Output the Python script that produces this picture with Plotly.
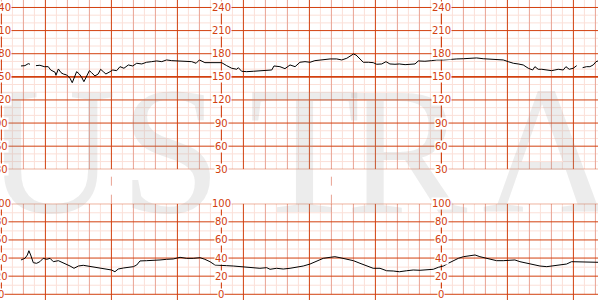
import plotly.graph_objects as go

# ---------------- data (minutes / bpm / UA units) ----------------
fhr_t = [0.89, 1.07, 1.22, 1.30, None, 1.57, 1.75, 1.95, 2.13, 2.24, 2.44, 2.48, 2.59, 2.71, 2.81, 2.97,
         3.12, 3.22, 3.30, 3.42, 3.54, 3.65, 3.75, 3.88, 4.00, 4.10, 4.25, 4.40, 4.51, 4.63, 4.75, 4.94,
         5.06, 5.24, 5.39, 5.57, 5.77, 5.97, 6.15, 6.38, 6.60, 6.83, 7.06, 7.29, 7.51, 7.74, 7.97, 8.20,
         8.42, 8.65, 8.85, 9.00, 9.25, 9.56, 9.79, 10.01, 10.24, 10.47, 10.70, 10.77, 10.92, 11.15, 11.45,
         11.75, 12.06, 12.29, 12.39, 12.66, 12.89, 13.12, 13.35, 13.57, 13.80, 14.03, 14.25, 14.48, 14.71,
         14.94, 15.24, 15.47, 15.70, 15.85, 16.00, 16.12, 16.27, 16.45, 16.68, 16.90, 17.06, 17.29, 17.48,
         17.66, 17.89, 18.09, 18.35, 18.57, 18.80, 18.95, 19.25, 19.56, 19.79, 20.09, 20.39, 20.70, 21.00,
         21.30, 21.60, 21.90, 22.21, 22.51, 22.81, 23.04, 23.27, 23.49, 23.72, 23.95, 24.15, 24.25, 24.40,
         24.56, 24.79, 25.01, 25.16, 25.31, 25.54, 25.66, 25.81, 25.99, 26.15, None, 26.42, 26.60, 26.75,
         26.90, 27.03, 27.12]
fhr_bpm = [164.1, 164.5, 167.1, 166.3, None, 164.5, 165.0, 163.2, 163.2, 158.9, 155.9, 152.0, 160.2, 155.4,
           153.7, 152.4, 148.1, 142.4, 148.1, 156.7, 153.7, 149.4, 143.7, 152.4, 158.0, 155.4, 151.1, 153.7,
           159.8, 156.7, 153.7, 156.7, 158.9, 158.0, 163.2, 161.1, 165.4, 164.1, 167.6, 166.7, 168.9, 169.7,
           170.6, 169.7, 171.9, 171.0, 170.6, 171.0, 170.6, 169.7, 167.6, 171.9, 168.4, 168.4, 169.3, 168.4,
           164.5, 161.1, 159.8, 161.9, 157.2, 156.7, 157.2, 158.0, 158.0, 158.9, 164.1, 163.2, 160.6, 165.4,
           163.2, 168.9, 169.7, 168.9, 171.0, 171.9, 172.8, 173.2, 173.2, 171.9, 174.1, 177.1, 179.6, 178.3,
           174.1, 168.9, 168.9, 168.4, 166.3, 166.7, 169.7, 166.7, 166.3, 166.7, 165.8, 166.7, 166.7, 170.6,
           170.2, 171.0, 171.9, 171.9, 172.8, 173.2, 173.5, 174.1, 174.5, 173.5, 173.2, 172.8, 171.9, 169.7,
           167.6, 166.7, 165.4, 161.1, 158.9, 163.2, 159.8, 159.8, 158.9, 158.0, 158.9, 159.8, 158.9, 163.2,
           159.8, 161.1, 164.5, None, 161.9, 163.2, 163.2, 165.4, 169.7, 170.6]

ua_t = [0.89, 1.07, 1.18, 1.25, 1.33, 1.45, 1.60, 1.75, 1.90, 2.06, 2.21, 2.36, 2.59, 2.81, 3.12, 3.30,
        3.50, 3.72, 3.95, 4.18, 4.48, 4.79, 5.01, 5.16, 5.31, 5.54, 5.77, 6.00, 6.15, 6.30, 6.60, 6.90,
        7.21, 7.51, 7.81, 8.12, 8.42, 8.72, 9.03, 9.25, 9.48, 9.71, 9.94, 10.24, 10.54, 10.85, 11.15,
        11.45, 11.75, 12.06, 12.21, 12.51, 12.81, 13.12, 13.42, 13.72, 14.03, 14.33, 14.63, 14.94, 15.16,
        15.39, 15.70, 16.00, 16.30, 16.60, 16.90, 17.21, 17.51, 17.81, 18.09, 18.42, 18.72, 19.03, 19.33,
        19.63, 19.86, 20.09, 20.31, 20.54, 20.77, 21.00, 21.30, 21.53, 21.75, 21.98, 22.21, 22.51, 22.81,
        23.12, 23.34, 23.57, 23.88, 24.18, 24.48, 24.79, 25.09, 25.39, 25.69, 25.92, 26.15, 26.45, 26.75,
        27.12]
ua_val = [37.9, 39.7, 43.4, 48.1, 43.4, 34.9, 34.2, 36.0, 39.7, 38.6, 39.7, 36.0, 37.1, 34.9, 31.2, 28.7,
          31.2, 32.0, 31.2, 30.5, 28.7, 27.6, 26.8, 24.9, 27.9, 29.0, 29.8, 30.5, 32.3, 36.8, 37.1, 37.1,
          37.9, 38.6, 39.0, 40.8, 39.7, 39.7, 40.4, 38.6, 36.0, 32.3, 32.3, 31.6, 31.2, 30.5, 29.4, 28.7,
          28.7, 29.4, 27.6, 28.7, 27.9, 28.7, 29.8, 31.2, 33.4, 36.8, 39.7, 40.8, 41.5, 40.4, 38.6, 37.1,
          34.2, 31.2, 28.7, 28.7, 26.0, 25.7, 24.9, 26.0, 26.8, 26.5, 26.8, 27.6, 29.8, 31.2, 34.2, 37.1,
          39.7, 41.5, 42.6, 43.4, 41.5, 40.4, 38.6, 37.1, 37.1, 37.9, 37.9, 36.0, 34.2, 32.3, 31.2, 30.5,
          31.2, 32.3, 33.4, 36.0, 36.0, 35.3, 35.3, 35.3]

fhr_ticks = [30, 60, 90, 120, 150, 180, 210, 240]
ua_ticks = [0, 20, 40, 60, 80, 100]
label_minutes = [0, 10, 20]
marker_minutes = [5, 15]
watermark_letters = ["U", "S", "T", "R", "A"]

# ---------------- styling ----------------
DARK = "#d2400f"
MED = "#e9a393"
LIGHT = "#fbe0d8"
LABEL = "#d2400f"
W, H = 598, 300
X0PX, PX_PER_MIN = 1.4, 22.0
XR = [-X0PX / PX_PER_MIN, (W - X0PX) / PX_PER_MIN]
Y1R = [30, 249.7]
Y2R = [-6.3, 100]
TOP_DOM = [1 - 169.3 / H, 1]
BOT_DOM = [0, 1 - 203.7 / H]

fig = go.Figure()
fig.add_trace(go.Scatter(x=fhr_t, y=fhr_bpm, mode="lines", line=dict(color="black", width=1),
                         connectgaps=False, xaxis="x", yaxis="y", hoverinfo="skip"))
fig.add_trace(go.Scatter(x=ua_t, y=ua_val, mode="lines", line=dict(color="black", width=1),
                         xaxis="x2", yaxis="y2", hoverinfo="skip"))

shapes_light, shapes_med, shapes_dark = [], [], []

def hline(lst, xr, yr, v, color, w=1):
    lst.append(dict(type="line", xref=xr, yref=yr, x0=XR[0], x1=XR[1], y0=v, y1=v,
                    line=dict(color=color, width=w), layer="below"))

def vline(lst, xr, yr, t, y0, y1, color, w=1, dash="solid"):
    lst.append(dict(type="line", xref=xr, yref=yr, x0=t, x1=t, y0=y0, y1=y1,
                    line=dict(color=color, width=w, dash=dash), layer="below"))

# horizontal grid
for v in range(30, 250, 10):
    if v % 30 == 0:
        hline(shapes_dark, "x", "y", v, DARK, 1.6 if v == 150 else 1)
    else:
        hline(shapes_light, "x", "y", v, LIGHT)
for v in range(0, 101, 10):
    if v % 20 == 0:
        hline(shapes_dark, "x2", "y2", v, DARK)
    else:
        hline(shapes_light, "x2", "y2", v, LIGHT)

# vertical grid
k = 0
while k * 0.5 <= XR[1]:
    t = k * 0.5
    if t >= 2 and abs(((t - 2) % 3)) < 1e-9:
        vline(shapes_dark, "x", "y", t, Y1R[0], Y1R[1], DARK)
        vline(shapes_dark, "x2", "y2", t, Y2R[0], 100, DARK)
    elif abs(t - round(t)) < 1e-9:
        vline(shapes_med, "x", "y", t, Y1R[0], Y1R[1], MED)
        vline(shapes_med, "x2", "y2", t, 0, 100, MED)
    else:
        vline(shapes_light, "x", "y", t, Y1R[0], Y1R[1], LIGHT)
        vline(shapes_light, "x2", "y2", t, 0, 100, LIGHT)
    k += 1

# axis lines at label minutes
axis_shapes = []
for m in label_minutes:
    vline(axis_shapes, "x", "y", m, 30, 240, DARK)
    vline(axis_shapes, "x2", "y2", m, 0, 100, DARK)

# dashed event markers in the gap
gap_shapes = []
for m in marker_minutes:
    gap_shapes.append(dict(type="line", xref="x", yref="paper", x0=m, x1=m,
                           y0=BOT_DOM[1], y1=TOP_DOM[0],
                           line=dict(color=MED, width=1, dash="dash"), layer="below"))

fig.update_layout(shapes=shapes_light + shapes_med + shapes_dark + axis_shapes + gap_shapes)

annotations = []
# watermark first (so tick labels sit above it)
wm_x = [50, 171, 304, 407, 547]
for ch, px in zip(watermark_letters, wm_x):
    annotations.append(dict(x=px / W, y=1 - 150 / H, xref="paper", yref="paper", text=ch,
                            showarrow=False, xanchor="center", yanchor="middle",
                            font=dict(family="Liberation Serif", size=182,
                                      color="rgba(160,160,160,0.2)")))

for m in label_minutes:
    for v in fhr_ticks:
        annotations.append(dict(x=m, y=v, xref="x", yref="y", text=str(v), showarrow=False,
                                bgcolor="white", borderpad=0,
                                font=dict(family="DejaVu Sans", size=10, color=LABEL)))
    for v in ua_ticks:
        annotations.append(dict(x=m, y=v, xref="x2", yref="y2", text=str(v), showarrow=False,
                                bgcolor="white", borderpad=0,
                                font=dict(family="DejaVu Sans", size=10, color=LABEL)))

fig.update_layout(
    annotations=annotations,
    width=W, height=H, margin=dict(l=0, r=0, t=0, b=0),
    paper_bgcolor="white", plot_bgcolor="white", showlegend=False,
    xaxis=dict(range=XR, domain=[0, 1], visible=False, anchor="y"),
    yaxis=dict(range=Y1R, domain=TOP_DOM, visible=False, anchor="x"),
    xaxis2=dict(range=XR, domain=[0, 1], visible=False, anchor="y2"),
    yaxis2=dict(range=Y2R, domain=BOT_DOM, visible=False, anchor="x2"),
)

fig.write_html("out.html")
